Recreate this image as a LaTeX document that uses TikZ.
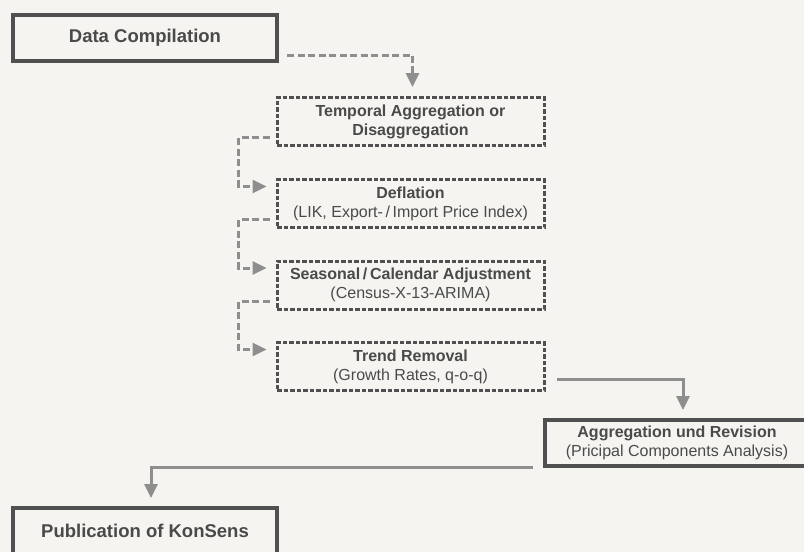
\documentclass[tikz,border=0pt]{standalone}
\usepackage{fontspec}
\setmainfont{Liberation Sans}
\usetikzlibrary{arrows.meta,calc}
\definecolor{bgpaper}{HTML}{F5F4F0}
\definecolor{boxline}{HTML}{505050}
\definecolor{boxtext}{HTML}{4A4A4A}
\definecolor{flowline}{HTML}{8E8E8E}

\begin{document}
\begin{tikzpicture}[x=1pt, y=-1pt,
	  mainbox/.style={draw=boxline, line width=4pt, text=boxtext, minimum width=264pt, minimum height=46pt, align=center, font=\fontsize{18.5}{22}\selectfont\bfseries},
	  stagebox/.style={draw=boxline, line width=3pt, dash pattern=on 4.5pt off 2pt, text=boxtext, minimum width=267pt, minimum height=48pt, align=center, font=\fontsize{16}{19}\selectfont},
	  resbox/.style={draw=boxline, line width=4pt, text=boxtext, minimum width=264pt, minimum height=46pt, align=center, font=\fontsize{16}{19}\selectfont},
	  flowdash/.style={draw=flowline, line width=3pt, dash pattern=on 7pt off 3.5pt, -{Triangle[width=13pt,length=14pt]}},
	  flowsolid/.style={draw=flowline, line width=3pt, -{Triangle[width=13pt,length=14pt]}}]
	  \useasboundingbox (0,0) rectangle (804,552);
	  \fill [bgpaper] (0,0) rectangle (804,552);
	  \clip (0,0) rectangle (804,552);

	  \node [mainbox]   (comp)      at (145,38)      {Data Compilation};
	  \node [stagebox]  (temporal)  at (410.5,121.5) {\textbf{Temporal Aggregation or}\\\textbf{Disaggregation}};
	  \node [stagebox]  (deflation) at (410.5,203.5) {\textbf{Deflation}\\(LIK, Export-\,/\,Import Price Index)};
	  \node [stagebox]  (seasonal)  at (410.5,285)   {\textbf{Seasonal\,/\,Calendar Adjustment}\\(Census-X-13-ARIMA)};
	  \node [stagebox]  (trend)     at (410.5,366.5) {\textbf{Trend Removal}\\(Growth Rates, q-o-q)};
	  \node [resbox]    (aggr)      at (677,443)     {\textbf{Aggregation und Revision}\\(Pricipal Components Analysis)};
	  \node [mainbox]   (publ)      at (145,531)     {Publication of KonSens};

	  \draw [flowdash, shorten >=9pt] ([xshift=8pt,yshift=-17pt]comp.east) -| ([xshift=2pt]temporal.north);

	  \foreach \from/\to in {temporal/deflation, deflation/seasonal, seasonal/trend}
	    \draw [flowdash] ([xshift=-6pt,yshift=-16pt]\from.west) -- ++(-31,0) |- ([xshift=-9pt,yshift=17pt]\to.west);

	  \draw [flowsolid, shorten >=8pt] ([xshift=11pt,yshift=-12.5pt]trend.east) -| ([xshift=6pt]aggr.north);
	  \draw [flowsolid, shorten >=8pt] ([xshift=-10pt,yshift=-24pt]aggr.west) -| ([xshift=6pt]publ.north);
	\end{tikzpicture}
\end{document}
